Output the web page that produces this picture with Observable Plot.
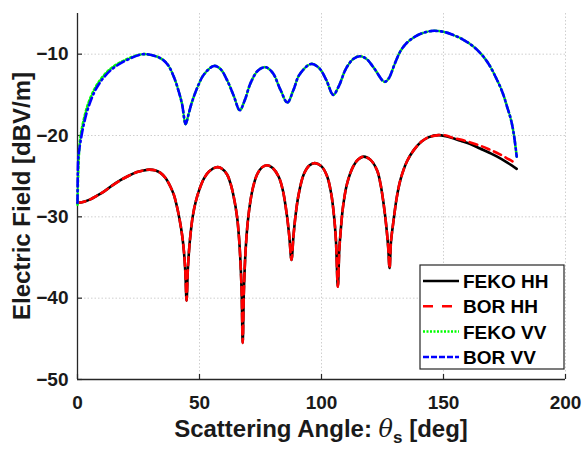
<!DOCTYPE html>
<html><head><meta charset="utf-8">
<script src="https://cdn.jsdelivr.net/npm/d3@7"></script>
<script src="https://cdn.jsdelivr.net/npm/@observablehq/plot@0.6"></script>
<style>body{margin:0;background:#fff;}</style>
</head><body><div id="chart"></div>
<script>
const xTicks = [0, 50, 100, 150, 200];
const yTicks = [-50, -40, -30, -20, -10];
const seriesNames = ["FEKO HH", "BOR HH", "FEKO VV", "BOR VV"];
const seriesColors = ["#000000", "#ff0000", "#00ff00", "#0000ff"];
const seriesDash = [null, "8,5", "2,2.5", "8,3.5,1.5,3.5"];
const legendDash = [null, "10,9", "2,1.5", "6,2"];
const xLabel = "Scattering Angle: ";
const yLabel = "Electric Field [dBV/m]";

const hhAngles = [0,3,5.3,8,10.8,14,17.6,21,24.4,27,29.5,32,34,36,38.1,39.5,40.8,42,42.9,43.6,44.2,44.7,45.2,45.7,46.3,47.2,48.4,50,51.8,54,57,59,61.3,62.7,64,65.4,66.2,66.8,67.3,67.7,68.2,68.9,69.8,70.9,72,73.6,75.5,77.7,80,82.5,84.2,85.9,86.8,87.7,88.5,89.3,90.6,92.7,95,97.3,100,102.3,104,105.1,105.9,106.7,107.3,107.8,108.8,110.5,113,115,117.3,120.1,122.8,124.2,125.5,126.5,127.3,127.9,128.5,129.6,130.8,132.4,135,137.8,141,144,148,151,154,157,161,165,169,172,176,180];
const fekoHH = [-28.3,-28.1,-27.85,-27.4,-26.9,-26.2,-25.5,-24.95,-24.5,-24.3,-24.2,-24.3,-24.6,-25.2,-26.3,-27.3,-28.8,-30.6,-32.3,-34.2,-36.8,-40.3,-36.6,-34.2,-32.2,-30.0,-28.2,-26.6,-25.3,-24.4,-23.9,-24.05,-24.8,-25.9,-27.5,-30.0,-32.6,-35.6,-39.5,-45.5,-39.0,-34.1,-30.6,-28.0,-26.3,-24.8,-23.95,-23.65,-24.0,-25.1,-26.8,-30.0,-32.4,-35.3,-32.4,-30.0,-27.3,-24.8,-23.7,-23.4,-23.8,-25.0,-27.2,-29.8,-32.8,-38.6,-34.0,-32.0,-28.8,-25.9,-23.8,-22.95,-22.6,-23.0,-24.3,-26.0,-28.5,-31.0,-33.6,-36.3,-33.0,-30.3,-27.7,-25.4,-23.2,-21.8,-20.75,-20.2,-19.95,-20.1,-20.35,-20.65,-21.05,-21.6,-22.15,-22.6,-23.3,-24.1];
const borHH = [-28.3,-28.1,-27.85,-27.4,-26.9,-26.2,-25.5,-24.95,-24.5,-24.3,-24.2,-24.3,-24.6,-25.2,-26.3,-27.3,-28.8,-30.6,-32.3,-34.2,-36.8,-40.3,-36.6,-34.2,-32.2,-30.0,-28.2,-26.6,-25.3,-24.4,-23.9,-24.05,-24.8,-25.9,-27.5,-30.0,-32.6,-35.6,-39.5,-45.5,-39.0,-34.1,-30.6,-28.0,-26.3,-24.8,-23.95,-23.65,-24.0,-25.1,-26.8,-30.0,-32.4,-35.3,-32.4,-30.0,-27.3,-24.8,-23.7,-23.4,-23.8,-25.0,-27.2,-29.8,-32.8,-38.6,-34.0,-32.0,-28.8,-25.9,-23.8,-22.95,-22.6,-23.0,-24.3,-26.0,-28.5,-31.0,-33.6,-36.3,-33.0,-30.3,-27.7,-25.4,-23.2,-21.8,-20.75,-20.2,-19.95,-20.0,-20.3,-20.5,-20.85,-21.25,-21.75,-22.15,-22.8,-23.45];

const vvAngles = [0,0.3,0.7,1.2,2.6,4.6,8.1,13.5,20.4,27.2,34,37,39.5,41.5,42.9,44.3,45.5,46.5,47.7,49.7,51.8,55.9,58.5,61.3,64,66.5,68.5,71,74,77,80,83.2,86,88.5,91,95.7,99,102,104.8,107,110,113,115.7,118.5,121.5,125.8,127.5,130,132.4,135,137.8,141,145.4,150,154.2,158,162,165.2,168.5,172,174.3,176.1,177.6,178.8,180];
const fekoVV = [-28.5,-24.5,-21.8,-20.2,-18.0,-15.9,-13.7,-11.8,-10.6,-10.0,-10.5,-11.3,-12.8,-14.6,-16.2,-18.6,-17.4,-16.3,-15.2,-13.7,-12.5,-11.45,-11.8,-13.2,-15.1,-16.9,-15.7,-13.5,-12.0,-11.6,-12.3,-14.4,-15.95,-14.4,-12.5,-11.2,-11.7,-13.2,-15.0,-14.0,-11.8,-10.6,-10.25,-10.6,-11.7,-13.4,-13.0,-11.2,-9.6,-8.6,-7.95,-7.45,-7.14,-7.25,-7.67,-8.2,-9.0,-9.9,-11.2,-13.2,-14.8,-16.5,-18.0,-19.8,-22.6];
const borVV = [-28.3,-22.8,-21.8,-20.8,-18.6,-16.4,-14.0,-12.0,-10.7,-10.0,-10.5,-11.3,-12.8,-14.6,-16.2,-18.6,-17.4,-16.3,-15.2,-13.7,-12.5,-11.45,-11.8,-13.2,-15.1,-16.9,-15.7,-13.5,-12.0,-11.6,-12.3,-14.4,-15.95,-14.4,-12.5,-11.2,-11.7,-13.2,-15.0,-14.0,-11.8,-10.6,-10.25,-10.6,-11.7,-13.4,-13.0,-11.2,-9.6,-8.6,-7.95,-7.45,-7.14,-7.25,-7.67,-8.2,-9.0,-9.9,-11.2,-13.2,-14.8,-16.5,-18.0,-19.8,-22.6];

const seriesData = [
  hhAngles.map((t, i) => ({theta: t, value: fekoHH[i]})),
  hhAngles.map((t, i) => ({theta: t, value: borHH[i]})),
  vvAngles.map((t, i) => ({theta: t, value: fekoVV[i]})),
  vvAngles.map((t, i) => ({theta: t, value: borVV[i]}))
];

const W = 582, H = 449, mL = 77, mR = 17, mT = 13, mB = 70;
const textColor = "#1a1a1a";
const axisColor = "#262626";

const lineMarks = seriesData.map((d, i) => Plot.line(d, {
  x: "theta", y: "value", stroke: seriesColors[i], strokeWidth: 2.6,
  strokeDasharray: seriesDash[i] || undefined, curve: "catmull-rom"
}));

const chart = Plot.plot({
  width: W, height: H,
  marginLeft: mL, marginRight: mR, marginTop: mT, marginBottom: mB,
  style: {fontFamily: "'Liberation Sans', Arial, sans-serif", fontSize: "19px", fontWeight: "bold", color: textColor, background: "#fff"},
  x: {domain: [0, 200]},
  y: {domain: [-50, -5]},
  marks: [
    Plot.gridX(xTicks.slice(1), {stroke: "#cfcfcf", strokeOpacity: 1, strokeDasharray: "1.5,2"}),
    Plot.gridY(yTicks.slice(1), {stroke: "#cfcfcf", strokeOpacity: 1, strokeDasharray: "1.5,2"}),
    Plot.ruleX([0], {stroke: axisColor, strokeWidth: 1.3}),
    Plot.ruleY([-50], {stroke: axisColor, strokeWidth: 1.3}),
    Plot.tickX(xTicks, {x: d => d, stroke: axisColor, strokeWidth: 1.2, insetTop: H - mT - mB - 5}),
    Plot.tickY(yTicks, {y: d => d, stroke: axisColor, strokeWidth: 1.2, insetRight: W - mL - mR - 5}),
    Plot.axisX(xTicks, {tickSize: 0, tickPadding: 16, label: null, fill: textColor}),
    Plot.axisY(yTicks, {tickSize: 0, tickPadding: 9, label: null, fill: textColor}),
    ...lineMarks
  ]
});
document.getElementById("chart").appendChild(chart);

const svg = d3.select(chart);
// x label
const xt = svg.append("text")
  .attr("x", (mL + W - mR) / 2).attr("y", 437)
  .attr("text-anchor", "middle")
  .style("font-size", "24px").style("font-weight", "bold").attr("fill", textColor);
xt.append("tspan").text(xLabel);
xt.append("tspan").text("θ").style("font-style", "italic").style("font-family", "'DejaVu Serif', serif").style("font-weight", "normal");
xt.append("tspan").text("s").attr("dy", 6).style("font-size", "17px");
xt.append("tspan").text(" [deg]").attr("dy", -6);
// y label
svg.append("text")
  .attr("transform", `translate(30,${(mT + H - mB) / 2}) rotate(-90)`)
  .attr("text-anchor", "middle")
  .style("font-size", "24px").style("font-weight", "bold").attr("fill", textColor)
  .text(yLabel);

// legend
const lg = svg.append("g");
lg.append("rect").attr("x", 420).attr("y", 265).attr("width", 144).attr("height", 104)
  .attr("fill", "#fff").attr("stroke", axisColor).attr("stroke-width", 1.2);
seriesNames.forEach((name, i) => {
  const yy = 281 + i * 25.3;
  lg.append("line").attr("x1", 423).attr("x2", 459).attr("y1", yy).attr("y2", yy)
    .attr("stroke", seriesColors[i]).attr("stroke-width", 2.5)
    .attr("stroke-dasharray", legendDash[i]);
  lg.append("text").attr("x", 463).attr("y", yy + 7)
    .attr("text-anchor", "start")
    .style("font-size", "19px").style("font-weight", "bold").attr("fill", "#000")
    .text(name);
});
</script>
</body></html>
